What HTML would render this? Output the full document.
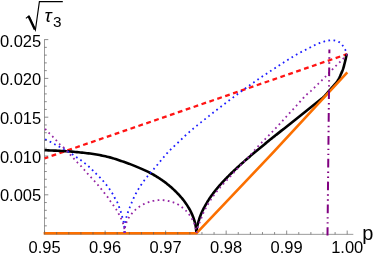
<!DOCTYPE html>
<html><head><meta charset="utf-8"><style>
html,body{margin:0;padding:0;background:#fff;}
svg{display:block;will-change:transform;font-family:"Liberation Sans",sans-serif;}
</style></head><body>
<svg width="374" height="257" viewBox="0 0 374 257">
<rect width="374" height="257" fill="#fff"/>
<g stroke="#6e6e6e" stroke-width="0.7" fill="none">
<line x1="44.5" y1="39.3" x2="44.5" y2="234.35"/>
<line x1="44.5" y1="234.35" x2="353.3" y2="234.35"/>
</g>
<g fill="none" stroke-linejoin="miter">
<path d="M44.6,158.3 L347.2,54.1" stroke="#ff1414" stroke-width="2.3" stroke-dasharray="4.8 3.545" stroke-dashoffset="0.95"/>
<path d="M44.60,150.22 L46.50,150.29 L48.39,150.37 L50.27,150.44 L52.14,150.52 L53.99,150.59 L55.83,150.67 L57.66,150.75 L59.48,150.84 L61.29,150.93 L63.08,151.02 L64.86,151.13 L66.63,151.24 L68.39,151.36 L70.14,151.50 L71.87,151.64 L73.59,151.79 L75.30,151.95 L77.00,152.11 L78.69,152.28 L80.36,152.45 L82.03,152.63 L83.68,152.80 L85.31,152.98 L86.94,153.17 L88.55,153.37 L90.16,153.58 L91.75,153.80 L93.32,154.04 L94.89,154.28 L96.44,154.54 L97.99,154.81 L99.52,155.09 L101.04,155.38 L102.54,155.69 L104.04,156.00 L105.52,156.33 L106.99,156.67 L108.45,157.02 L109.89,157.38 L111.33,157.76 L112.75,158.18 L114.16,158.63 L115.56,159.10 L116.94,159.57 L118.32,160.03 L119.68,160.49 L121.03,160.93 L122.37,161.37 L123.69,161.82 L125.01,162.27 L126.31,162.73 L127.60,163.19 L128.88,163.66 L130.14,164.13 L131.40,164.61 L132.64,165.10 L133.87,165.59 L135.09,166.09 L136.29,166.60 L137.49,167.10 L138.67,167.60 L139.84,168.09 L141.00,168.59 L142.15,169.10 L143.28,169.60 L144.40,170.11 L145.51,170.62 L146.61,171.14 L147.70,171.67 L148.77,172.20 L149.83,172.74 L150.88,173.29 L151.92,173.85 L152.95,174.42 L153.96,175.00 L154.96,175.59 L155.95,176.19 L156.93,176.79 L157.90,177.40 L158.85,178.01 L159.79,178.62 L160.72,179.24 L161.64,179.87 L162.55,180.50 L163.44,181.13 L164.32,181.78 L165.19,182.42 L166.05,183.08 L166.90,183.73 L167.73,184.40 L168.55,185.07 L169.36,185.75 L170.16,186.43 L170.95,187.11 L171.72,187.79 L172.48,188.47 L173.23,189.16 L173.97,189.85 L174.70,190.54 L175.41,191.23 L176.11,191.92 L176.80,192.61 L177.48,193.31 L178.15,194.01 L178.80,194.70 L179.44,195.40 L180.07,196.10 L180.69,196.80 L181.30,197.50 L181.89,198.20 L182.47,198.90 L183.04,199.60 L183.60,200.31 L184.15,201.02 L184.68,201.74 L185.20,202.45 L185.72,203.18 L186.21,203.90 L186.70,204.63 L187.17,205.36 L187.64,206.09 L188.09,206.81 L188.52,207.54 L188.95,208.27 L189.36,209.00 L189.77,209.73 L190.16,210.45 L190.53,211.18 L190.90,211.90 L191.25,212.62 L191.60,213.34 L191.93,214.06 L192.24,214.78 L192.55,215.50 L192.84,216.22 L193.13,216.93 L193.40,217.65 L193.65,218.37 L193.90,219.09 L194.13,219.80 L194.36,220.52 L194.57,221.23 L194.76,221.94 L194.95,222.65 L195.12,223.35 L195.29,224.06 L195.44,224.76 L195.57,225.46 L195.70,226.15 L195.81,226.85 L195.92,227.54 L196.01,228.23 L196.08,228.92 L196.15,229.60 L196.20,230.29 L196.25,230.97 L196.28,231.65 L196.29,232.33 L196.30,233.00" stroke="#000" stroke-width="2.6"/>
<path d="M196.30,233.00 L196.36,232.20 L196.44,231.41 L196.52,230.61 L196.62,229.82 L196.74,229.03 L196.86,228.24 L197.00,227.45 L197.15,226.67 L197.32,225.89 L197.49,225.11 L197.68,224.33 L197.88,223.56 L198.09,222.79 L198.31,222.02 L198.54,221.25 L198.78,220.49 L199.03,219.73 L199.26,218.97 L199.51,218.21 L199.76,217.45 L200.03,216.70 L200.31,215.95 L200.59,215.20 L200.89,214.46 L201.19,213.72 L201.51,212.99 L201.83,212.25 L202.16,211.53 L202.50,210.80 L202.85,210.09 L203.20,209.37 L203.57,208.66 L203.94,207.95 L204.32,207.25 L204.70,206.55 L205.10,205.85 L205.49,205.16 L205.89,204.46 L206.28,203.77 L206.68,203.07 L207.08,202.39 L207.49,201.70 L207.91,201.02 L208.34,200.34 L208.77,199.67 L209.20,199.00 L209.64,198.33 L210.09,197.67 L210.54,197.01 L210.99,196.35 L211.46,195.70 L211.92,195.05 L212.39,194.40 L212.87,193.76 L213.34,193.12 L213.83,192.49 L214.31,191.85 L214.81,191.22 L215.30,190.59 L215.80,189.97 L216.30,189.35 L216.81,188.73 L217.32,188.12 L217.84,187.51 L218.36,186.90 L218.88,186.30 L219.40,185.69 L219.93,185.09 L220.46,184.49 L220.99,183.90 L221.53,183.31 L222.07,182.72 L222.61,182.13 L223.15,181.54 L223.69,180.96 L224.24,180.38 L224.79,179.80 L225.34,179.22 L225.90,178.64 L226.46,178.07 L227.01,177.50 L227.57,176.93 L228.14,176.36 L228.70,175.80 L229.27,175.23 L229.84,174.67 L230.41,174.11 L230.98,173.55 L231.55,172.99 L232.12,172.44 L232.70,171.89 L233.28,171.33 L233.86,170.78 L234.44,170.23 L235.02,169.69 L235.60,169.14 L236.19,168.60 L236.77,168.05 L237.36,167.51 L237.95,166.97 L238.54,166.43 L239.13,165.89 L239.72,165.36 L240.32,164.82 L240.91,164.29 L241.50,163.75 L242.10,163.22 L242.70,162.69 L243.30,162.16 L243.89,161.63 L244.49,161.10 L245.10,160.58 L245.70,160.05 L246.30,159.53 L246.90,159.00 L247.51,158.48 L248.11,157.96 L248.72,157.44 L249.33,156.92 L249.93,156.40 L250.54,155.88 L251.15,155.36 L251.76,154.85 L252.37,154.33 L252.98,153.81 L253.59,153.30 L254.20,152.79 L254.81,152.27 L255.43,151.76 L256.04,151.25 L256.65,150.74 L257.27,150.22 L257.88,149.71 L258.50,149.20 L259.11,148.70 L259.73,148.19 L260.35,147.68 L260.96,147.17 L261.58,146.66 L262.20,146.16 L262.82,145.65 L263.44,145.14 L264.05,144.64 L264.67,144.13 L265.29,143.63 L265.91,143.13 L266.53,142.62 L267.15,142.12 L267.77,141.61 L268.40,141.11 L269.02,140.61 L269.64,140.11 L270.26,139.61 L270.88,139.11 L271.51,138.61 L272.13,138.11 L272.75,137.61 L273.38,137.11 L274.00,136.61 L274.63,136.11 L275.25,135.61 L275.87,135.11 L276.50,134.61 L277.12,134.12 L277.75,133.62 L278.37,133.12 L279.00,132.62 L279.62,132.13 L280.25,131.63 L280.87,131.13 L281.50,130.63 L282.13,130.14 L282.75,129.64 L283.38,129.14 L284.00,128.65 L284.63,128.15 L285.26,127.65 L285.88,127.16 L286.51,126.66 L287.13,126.16 L287.76,125.67 L288.39,125.17 L289.01,124.68 L289.64,124.18 L290.27,123.68 L290.89,123.19 L291.52,122.69 L292.14,122.19 L292.77,121.70 L293.40,121.20 L294.02,120.71 L294.65,120.21 L295.28,119.71 L295.90,119.22 L296.53,118.72 L297.15,118.22 L297.78,117.73 L298.40,117.23 L299.03,116.73 L299.66,116.23 L300.28,115.74 L300.91,115.24 L301.53,114.74 L302.16,114.25 L302.78,113.75 L303.41,113.25 L304.03,112.75 L304.66,112.25 L305.28,111.76 L305.91,111.26 L306.53,110.76 L307.16,110.26 L307.78,109.76 L308.40,109.27 L309.03,108.77 L309.65,108.27 L310.28,107.77 L310.90,107.27 L311.52,106.77 L312.15,106.27 L312.77,105.77 L313.40,105.27 L314.02,104.77 L314.64,104.27 L315.27,103.77 L315.89,103.27 L316.51,102.77 L317.13,102.27 L317.76,101.77 L318.38,101.27 L319.00,100.76 L319.62,100.26 L320.24,99.76 L320.87,99.26 L321.50,98.77 L322.12,98.27 L322.73,97.75 L323.32,97.22 L323.90,96.67 L324.47,96.11 L325.02,95.54 L325.57,94.95 L326.11,94.36 L326.64,93.76 L327.16,93.16 L327.68,92.54 L328.20,91.93 L328.71,91.32 L329.23,90.70 L329.75,90.09 L330.27,89.49 L330.80,88.89 L331.32,88.29 L331.86,87.69 L332.39,87.10 L332.92,86.50 L333.46,85.91 L333.99,85.31 L334.52,84.71 L335.05,84.11 L335.57,83.50 L336.08,82.89 L336.58,82.26 L337.06,81.62 L337.52,80.97 L337.96,80.30 L338.37,79.62 L338.77,78.93 L339.14,78.22 L339.50,77.50 L339.83,76.78 L340.16,76.05 L340.47,75.31 L340.78,74.58 L341.10,73.84 L341.42,73.11 L341.74,72.38 L342.06,71.64 L342.36,70.90 L342.66,70.16 L342.93,69.41 L343.19,68.66 L343.42,67.89 L343.64,67.12 L343.85,66.35 L344.05,65.58 L344.25,64.80 L344.44,64.03 L344.64,63.25 L344.83,62.47 L345.02,61.70 L345.21,60.92 L345.39,60.15 L345.58,59.37 L345.76,58.59 L345.93,57.81 L346.11,57.03 L346.27,56.25 L346.44,55.47 L346.60,54.69 L346.75,53.90" stroke="#000" stroke-width="2.6"/>
<path d="M43.6,233.3 L196.4,233.3 Q272.5,154.2 347.3,72.4" stroke="#fb6f00" stroke-width="2.6" stroke-miterlimit="10"/>
<path d="M45.10,139.30 L45.83,139.63 L46.55,139.97 L47.27,140.31 L47.99,140.67 L48.70,141.03 L49.41,141.39 L50.12,141.76 L50.83,142.14 L51.53,142.52 L52.23,142.90 L52.93,143.29 L53.63,143.67 L54.33,144.06 L55.03,144.45 L55.73,144.83 L56.43,145.21 L57.14,145.59 L57.84,145.96 L58.56,146.33 L59.27,146.68 L59.99,147.03 L60.71,147.38 L61.43,147.73 L62.15,148.08 L62.86,148.44 L63.56,148.82 L64.25,149.22 L64.94,149.63 L65.61,150.06 L66.29,150.49 L66.96,150.93 L67.63,151.36 L68.30,151.79 L68.98,152.22 L69.66,152.64 L70.34,153.06 L71.02,153.48 L71.69,153.91 L72.36,154.34 L73.03,154.79 L73.68,155.24 L74.34,155.70 L74.99,156.16 L75.64,156.63 L76.29,157.09 L76.95,157.54 L77.62,157.98 L78.29,158.42 L78.96,158.85 L79.63,159.29 L80.29,159.74 L80.95,160.19 L81.59,160.66 L82.23,161.15 L82.86,161.64 L83.48,162.14 L84.10,162.65 L84.72,163.15 L85.34,163.66 L85.96,164.16 L86.58,164.66 L87.20,165.17 L87.82,165.68 L88.43,166.19 L89.02,166.72 L89.61,167.26 L90.19,167.81 L90.77,168.37 L91.34,168.93 L91.90,169.49 L92.46,170.06 L93.03,170.63 L93.59,171.20 L94.15,171.77 L94.72,172.33 L95.28,172.90 L95.85,173.46 L96.42,174.02 L96.99,174.57 L97.56,175.13 L98.13,175.70 L98.70,176.26 L99.26,176.83 L99.82,177.40 L100.37,177.98 L100.92,178.55 L101.47,179.13 L102.02,179.71 L102.57,180.30 L103.10,180.89 L103.63,181.49 L104.15,182.10 L104.67,182.71 L105.17,183.33 L105.67,183.95 L106.16,184.58 L106.65,185.21 L107.14,185.85 L107.62,186.49 L108.10,187.13 L108.57,187.77 L109.04,188.42 L109.50,189.07 L109.95,189.73 L110.40,190.39 L110.85,191.05 L111.29,191.72 L111.72,192.39 L112.14,193.07 L112.56,193.76 L112.96,194.45 L113.34,195.15 L113.71,195.85 L114.08,196.56 L114.45,197.27 L114.82,197.98 L115.20,198.68 L115.60,199.37 L116.02,200.06 L116.43,200.74 L116.84,201.43 L117.23,202.13 L117.59,202.84 L117.92,203.57 L118.21,204.31 L118.47,205.07 L118.72,205.83 L118.96,206.59 L119.21,207.35 L119.47,208.10 L119.73,208.86 L120.00,209.61 L120.27,210.36 L120.54,211.12 L120.80,211.87 L121.05,212.63 L121.29,213.39 L121.51,214.16 L121.72,214.93 L121.93,215.70 L122.13,216.48 L122.33,217.25 L122.53,218.03 L122.74,218.80 L122.96,219.56 L123.19,220.33 L123.41,221.10 L123.60,221.87 L123.77,222.65 L123.91,223.44 L124.02,224.23 L124.11,225.03 L124.18,225.82 L124.26,226.62 L124.32,227.41 L124.39,228.21 L124.45,229.01 L124.50,229.81 L124.54,230.60 L124.57,231.40 L124.59,232.20 L124.60,233.00" stroke="#1c1cff" stroke-width="1.8" stroke-dasharray="1.7 3.4"/>
<path d="M124.60,233.00 L124.60,232.20 L124.61,231.40 L124.63,230.60 L124.65,229.81 L124.68,229.01 L124.72,228.21 L124.76,227.41 L124.82,226.61 L124.88,225.82 L124.94,225.02 L125.02,224.23 L125.11,223.43 L125.20,222.64 L125.31,221.85 L125.44,221.06 L125.58,220.27 L125.75,219.49 L125.95,218.72 L126.16,217.95 L126.40,217.19 L126.64,216.42 L126.87,215.66 L127.11,214.90 L127.34,214.13 L127.59,213.37 L127.84,212.61 L128.10,211.85 L128.36,211.08 L128.64,210.31 L128.92,209.54 L129.21,208.77 L129.51,208.00 L129.81,207.24 L130.11,206.48 L130.42,205.71 L130.74,204.95 L131.05,204.19 L131.37,203.44 L131.69,202.68 L132.02,201.92 L132.35,201.17 L132.67,200.42 L133.00,199.66 L133.32,198.91 L133.65,198.16 L133.98,197.41 L134.33,196.67 L134.68,195.94 L135.04,195.21 L135.41,194.48 L135.79,193.76 L136.17,193.04 L136.55,192.33 L136.94,191.62 L137.34,190.92 L137.74,190.23 L138.15,189.54 L138.56,188.86 L138.98,188.18 L139.40,187.50 L139.83,186.83 L140.27,186.15 L140.70,185.49 L141.15,184.82 L141.60,184.16 L142.05,183.50 L142.51,182.85 L142.97,182.20 L143.44,181.55 L143.91,180.91 L144.39,180.27 L144.87,179.63 L145.36,179.00 L145.85,178.37 L146.35,177.75 L146.85,177.12 L147.36,176.51 L147.87,175.89 L148.38,175.28 L148.90,174.67 L149.43,174.07 L149.96,173.47 L150.49,172.87 L151.01,172.27 L151.54,171.67 L152.06,171.07 L152.58,170.46 L153.10,169.86 L153.62,169.25 L154.14,168.64 L154.66,168.03 L155.17,167.42 L155.68,166.81 L156.20,166.20 L156.71,165.59 L157.22,164.97 L157.73,164.36 L158.24,163.74 L158.75,163.13 L159.26,162.51 L159.77,161.90 L160.28,161.28 L160.79,160.66 L161.29,160.05 L161.80,159.43 L162.31,158.82 L162.82,158.20 L163.33,157.58 L163.84,156.97 L164.35,156.35 L164.86,155.74 L165.37,155.13 L165.88,154.53 L166.39,153.94 L166.90,153.36 L167.42,152.80 L167.93,152.24 L168.45,151.69 L168.97,151.15 L169.48,150.62 L170.00,150.10 L170.53,149.58 L171.05,149.07 L171.57,148.56 L172.10,148.05 L172.63,147.55 L173.16,147.05 L173.69,146.56 L174.23,146.06 L174.77,145.56 L175.31,145.06 L175.85,144.57 L176.39,144.06 L176.94,143.56 L177.49,143.05 L178.04,142.53 L178.60,142.01 L179.16,141.47 L179.72,140.93 L180.28,140.38 L180.84,139.83 L181.41,139.28 L181.98,138.73 L182.55,138.18 L183.13,137.64 L183.70,137.10 L184.28,136.56 L184.86,136.02 L185.45,135.49 L186.03,134.96 L186.62,134.42 L187.21,133.90 L187.80,133.37 L188.39,132.84 L188.99,132.32 L189.58,131.80 L190.18,131.27 L190.78,130.76 L191.39,130.24 L191.99,129.72 L192.60,129.21 L193.20,128.69 L193.81,128.18 L194.42,127.67 L195.04,127.16 L195.65,126.66 L196.27,126.15 L196.89,125.65 L197.50,125.14 L198.12,124.64 L198.75,124.14 L199.37,123.64 L199.99,123.14 L200.62,122.64 L201.25,122.14 L201.88,121.64 L202.51,121.13 L203.14,120.63 L203.77,120.13 L204.40,119.62 L205.04,119.12 L205.67,118.61 L206.31,118.11 L206.95,117.60 L207.59,117.09 L208.23,116.59 L208.87,116.08 L209.51,115.57 L210.15,115.06 L210.79,114.56 L211.44,114.05 L212.08,113.54 L212.73,113.03 L213.37,112.53 L214.02,112.02 L214.66,111.51 L215.31,111.01 L215.96,110.50 L216.61,110.00 L217.26,109.49 L217.91,108.99 L218.56,108.49 L219.21,107.98 L219.86,107.48 L220.51,106.98 L221.16,106.48 L221.81,105.99 L222.47,105.49 L223.12,105.00 L223.77,104.50 L224.42,104.01 L225.08,103.52 L225.73,103.03 L226.38,102.54 L227.04,102.05 L227.69,101.55 L228.34,101.06 L228.99,100.57 L229.65,100.08 L230.30,99.59 L230.95,99.10 L231.60,98.61 L232.25,98.12 L232.91,97.62 L233.56,97.13 L234.21,96.64 L234.86,96.15 L235.51,95.66 L236.16,95.16 L236.81,94.67 L237.45,94.18 L238.10,93.68 L238.75,93.19 L239.40,92.70 L240.04,92.20 L240.69,91.73 L241.34,91.26 L241.98,90.79 L242.63,90.32 L243.28,89.85 L243.92,89.39 L244.57,88.92 L245.22,88.45 L245.86,87.98 L246.51,87.51 L247.16,87.04 L247.81,86.58 L248.45,86.11 L249.10,85.65 L249.75,85.18 L250.40,84.72 L251.05,84.25 L251.70,83.79 L252.35,83.33 L253.00,82.87 L253.66,82.41 L254.31,81.95 L254.96,81.50 L255.62,81.04 L256.28,80.59 L256.93,80.13 L257.59,79.68 L258.25,79.23 L258.91,78.78 L259.57,78.33 L260.23,77.88 L260.89,77.43 L261.55,76.99 L262.21,76.54 L262.88,76.10 L263.54,75.65 L264.20,75.21 L264.87,74.77 L265.53,74.32 L266.20,73.88 L266.87,73.44 L267.53,73.00 L268.20,72.56 L268.87,72.12 L269.54,71.68 L270.20,71.25 L270.87,70.81 L271.54,70.37 L272.21,69.93 L272.88,69.50 L273.55,69.06 L274.22,68.63 L274.89,68.19 L275.56,67.75 L276.23,67.32 L276.90,66.88 L277.57,66.45 L278.24,66.01 L278.92,65.58 L279.59,65.14 L280.26,64.71 L280.93,64.27 L281.60,63.84 L282.27,63.41 L282.95,62.97 L283.62,62.54 L284.29,62.11 L284.97,61.68 L285.64,61.25 L286.31,60.82 L286.99,60.39 L287.67,59.96 L288.34,59.54 L289.02,59.11 L289.70,58.69 L290.38,58.27 L291.06,57.85 L291.74,57.44 L292.43,57.02 L293.11,56.61 L293.80,56.20 L294.49,55.79 L295.18,55.39 L295.87,54.99 L296.56,54.59 L297.25,54.20 L297.95,53.80 L298.64,53.42 L299.34,53.03 L300.04,52.65 L300.75,52.27 L301.45,51.90 L302.16,51.53 L302.87,51.16 L303.58,50.80 L304.29,50.44 L305.00,50.08 L305.72,49.72 L306.43,49.37 L307.15,49.01 L307.86,48.65 L308.58,48.29 L309.29,47.93 L310.00,47.57 L310.71,47.20 L311.42,46.83 L312.13,46.46 L312.83,46.08 L313.54,45.71 L314.25,45.35 L314.97,45.00 L315.69,44.66 L316.42,44.34 L317.16,44.03 L317.90,43.74 L318.65,43.45 L319.40,43.17 L320.15,42.90 L320.90,42.63 L321.66,42.36 L322.41,42.09 L323.17,41.83 L323.93,41.58 L324.69,41.35 L325.46,41.14 L326.23,40.94 L327.01,40.78 L327.80,40.63 L328.59,40.51 L329.39,40.41 L330.18,40.33 L330.98,40.29 L331.79,40.26 L332.59,40.27 L333.39,40.31 L334.19,40.39 L334.98,40.52 L335.76,40.69 L336.54,40.91 L337.30,41.19 L338.04,41.51 L338.76,41.88 L339.44,42.30 L340.09,42.77 L340.70,43.28 L341.27,43.84 L341.81,44.43 L342.31,45.06 L342.78,45.71 L343.23,46.38 L343.67,47.05 L344.10,47.73 L344.51,48.42 L344.91,49.11 L345.30,49.81 L345.67,50.52 L346.02,51.23 L346.35,51.96 L346.66,52.69 L346.94,53.44 L347.20,54.20" stroke="#1c1cff" stroke-width="1.8" stroke-dasharray="1.7 3.4"/>
<path d="M45.10,128.80 L45.62,129.41 L46.14,130.01 L46.68,130.60 L47.22,131.18 L47.77,131.76 L48.33,132.33 L48.89,132.89 L49.46,133.45 L50.03,134.01 L50.60,134.56 L51.17,135.12 L51.75,135.67 L52.32,136.22 L52.89,136.78 L53.46,137.34 L54.02,137.91 L54.58,138.47 L55.13,139.05 L55.67,139.64 L56.20,140.23 L56.73,140.83 L57.25,141.43 L57.77,142.03 L58.30,142.63 L58.84,143.22 L59.39,143.79 L59.96,144.35 L60.55,144.89 L61.15,145.41 L61.76,145.93 L62.37,146.44 L62.97,146.96 L63.57,147.48 L64.16,148.02 L64.73,148.58 L65.29,149.14 L65.84,149.72 L66.38,150.30 L66.91,150.89 L67.44,151.49 L67.97,152.09 L68.49,152.70 L69.01,153.30 L69.53,153.90 L70.06,154.50 L70.59,155.10 L71.13,155.69 L71.66,156.28 L72.21,156.86 L72.75,157.45 L73.29,158.03 L73.83,158.62 L74.37,159.20 L74.90,159.80 L75.44,160.39 L75.97,160.98 L76.51,161.56 L77.06,162.14 L77.61,162.72 L78.17,163.28 L78.74,163.84 L79.31,164.40 L79.88,164.96 L80.44,165.52 L81.00,166.09 L81.54,166.67 L82.08,167.26 L82.60,167.86 L83.12,168.47 L83.64,169.07 L84.16,169.68 L84.67,170.29 L85.19,170.89 L85.71,171.49 L86.24,172.10 L86.77,172.69 L87.29,173.29 L87.83,173.88 L88.36,174.48 L88.89,175.07 L89.43,175.65 L89.97,176.24 L90.51,176.83 L91.05,177.41 L91.59,178.00 L92.13,178.58 L92.67,179.17 L93.22,179.75 L93.76,180.34 L94.30,180.92 L94.83,181.51 L95.37,182.10 L95.91,182.69 L96.44,183.28 L96.97,183.88 L97.49,184.48 L98.01,185.09 L98.52,185.70 L99.02,186.32 L99.52,186.94 L100.01,187.57 L100.51,188.19 L101.01,188.81 L101.51,189.43 L102.00,190.05 L102.50,190.68 L103.00,191.30 L103.50,191.92 L104.00,192.54 L104.49,193.16 L104.99,193.79 L105.49,194.41 L105.99,195.03 L106.48,195.65 L106.98,196.28 L107.47,196.91 L107.95,197.55 L108.41,198.20 L108.85,198.86 L109.28,199.53 L109.70,200.20 L110.13,200.88 L110.56,201.55 L111.01,202.21 L111.47,202.86 L111.95,203.49 L112.43,204.12 L112.92,204.75 L113.41,205.39 L113.89,206.02 L114.35,206.67 L114.81,207.33 L115.26,207.98 L115.70,208.64 L116.14,209.31 L116.56,209.98 L116.98,210.66 L117.38,211.35 L117.77,212.05 L118.14,212.75 L118.51,213.46 L118.87,214.17 L119.23,214.88 L119.60,215.59 L119.96,216.30 L120.31,217.01 L120.66,217.73 L121.01,218.45 L121.34,219.17 L121.67,219.90 L121.99,220.63 L122.30,221.36 L122.61,222.09 L122.90,222.84 L123.17,223.59 L123.41,224.34 L123.63,225.11 L123.82,225.89 L123.99,226.66 L124.13,227.45 L124.26,228.24 L124.36,229.03 L124.45,229.82 L124.51,230.61 L124.56,231.41 L124.59,232.20 L124.60,233.00" stroke="#9424a4" stroke-width="1.8" stroke-dasharray="1.7 3.4"/>
<path d="M124.60,233.00 L124.60,232.66 L124.61,232.32 L124.62,231.98 L124.63,231.64 L124.65,231.31 L124.67,230.97 L124.69,230.63 L124.72,230.29 L124.75,229.96 L124.78,229.62 L124.82,229.29 L124.86,228.95 L124.91,228.62 L124.95,228.28 L125.01,227.95 L125.06,227.62 L125.12,227.29 L125.19,226.96 L125.25,226.63 L125.32,226.30 L125.40,225.98 L125.48,225.65 L125.56,225.33 L125.64,225.00 L125.73,224.68 L125.82,224.36 L125.92,224.03 L126.02,223.71 L126.12,223.39 L126.23,223.07 L126.34,222.75 L126.45,222.44 L126.57,222.12 L126.69,221.81 L126.82,221.50 L126.95,221.20 L127.08,220.90 L127.21,220.60 L127.35,220.31 L127.50,220.02 L127.64,219.73 L127.79,219.44 L127.95,219.16 L128.11,218.87 L128.27,218.59 L128.43,218.31 L128.60,218.03 L128.77,217.75 L128.95,217.48 L129.13,217.20 L129.31,216.92 L129.50,216.65 L129.69,216.37 L129.88,216.09 L130.08,215.82 L130.28,215.54 L130.48,215.27 L130.69,214.99 L130.90,214.71 L131.12,214.44 L131.34,214.17 L131.56,213.89 L131.79,213.62 L132.02,213.35 L132.25,213.08 L132.49,212.81 L132.73,212.55 L132.97,212.28 L133.22,212.02 L133.47,211.75 L133.73,211.49 L133.99,211.22 L134.25,210.96 L134.51,210.70 L134.78,210.43 L135.06,210.17 L135.33,209.91 L135.62,209.66 L135.90,209.40 L136.19,209.15 L136.48,208.91 L136.77,208.66 L137.07,208.42 L137.38,208.19 L137.68,207.95 L137.99,207.71 L138.30,207.48 L138.62,207.25 L138.94,207.02 L139.27,206.80 L139.59,206.58 L139.92,206.36 L140.26,206.14 L140.60,205.93 L140.94,205.72 L141.29,205.51 L141.64,205.30 L141.99,205.10 L142.35,204.90 L142.71,204.69 L143.07,204.50 L143.44,204.30 L143.81,204.11 L144.18,203.92 L144.56,203.74 L144.94,203.57 L145.33,203.40 L145.72,203.24 L146.11,203.08 L146.51,202.93 L146.91,202.78 L147.31,202.63 L147.72,202.49 L148.13,202.35 L148.54,202.21 L148.96,202.08 L149.38,201.95 L149.81,201.82 L150.24,201.70 L150.67,201.58 L151.11,201.46 L151.55,201.34 L151.99,201.22 L152.44,201.10 L152.89,200.99 L153.34,200.88 L153.80,200.78 L154.26,200.68 L154.73,200.60 L155.20,200.53 L155.67,200.47 L156.15,200.42 L156.63,200.37 L157.11,200.31 L157.60,200.27 L158.09,200.22 L158.58,200.18 L159.08,200.15 L159.58,200.12 L160.09,200.11 L160.60,200.10 L161.11,200.10 L161.62,200.12 L162.14,200.14 L162.67,200.16 L163.19,200.19 L163.72,200.23 L164.26,200.27 L164.80,200.32 L165.34,200.37 L165.88,200.43 L166.43,200.51 L166.98,200.62 L167.54,200.75 L168.10,200.89 L168.66,201.05 L169.23,201.22 L169.80,201.39 L170.37,201.55 L170.95,201.70 L171.53,201.86 L172.12,202.02 L172.70,202.18 L173.30,202.36 L173.89,202.54 L174.49,202.74 L175.09,202.96 L175.70,203.20 L176.31,203.49 L176.93,203.81 L177.54,204.17 L178.16,204.55 L178.79,204.97 L179.42,205.40 L180.05,205.83 L180.68,206.28 L181.32,206.75 L181.97,207.24 L182.61,207.76 L183.26,208.31 L183.92,208.87 L184.57,209.46 L185.23,210.06 L185.90,210.69 L186.57,211.34 L187.24,212.04 L187.91,212.80 L188.59,213.65 L189.28,214.62 L189.96,215.69 L190.65,216.78 L191.34,217.85 L192.04,218.91 L192.74,220.05 L193.45,221.42 L194.15,223.22 L194.87,225.30 L195.58,227.71 L196.30,233.00" stroke="#9424a4" stroke-width="1.8" stroke-dasharray="1.7 3.4"/>
<path d="M196.60,233.00 L196.70,232.21 L196.81,231.42 L196.94,230.63 L197.10,229.85 L197.27,229.07 L197.46,228.30 L197.67,227.53 L197.90,226.76 L198.14,226.00 L198.41,225.25 L198.69,224.50 L198.99,223.77 L199.31,223.04 L199.64,222.31 L199.98,221.59 L200.31,220.86 L200.63,220.13 L200.92,219.39 L201.18,218.63 L201.43,217.88 L201.68,217.12 L201.96,216.37 L202.25,215.63 L202.55,214.89 L202.86,214.15 L203.17,213.42 L203.50,212.69 L203.83,211.97 L204.17,211.25 L204.52,210.53 L204.88,209.82 L205.25,209.11 L205.62,208.41 L206.01,207.71 L206.40,207.01 L206.79,206.32 L207.18,205.62 L207.57,204.93 L207.97,204.24 L208.37,203.55 L208.78,202.86 L209.19,202.18 L209.61,201.50 L210.04,200.83 L210.47,200.16 L210.91,199.49 L211.35,198.83 L211.80,198.17 L212.26,197.52 L212.71,196.86 L213.18,196.21 L213.65,195.57 L214.12,194.93 L214.60,194.29 L215.08,193.65 L215.56,193.02 L216.05,192.39 L216.54,191.76 L217.04,191.14 L217.54,190.52 L218.05,189.90 L218.56,189.29 L219.08,188.68 L219.59,188.07 L220.11,187.47 L220.63,186.87 L221.16,186.27 L221.69,185.67 L222.22,185.07 L222.76,184.48 L223.29,183.89 L223.83,183.31 L224.37,182.72 L224.92,182.14 L225.46,181.56 L226.01,180.98 L226.56,180.40 L227.12,179.83 L227.68,179.26 L228.23,178.69 L228.78,178.11 L229.33,177.53 L229.87,176.94 L230.40,176.35 L230.93,175.75 L231.45,175.15 L231.99,174.56 L232.52,173.96 L233.06,173.37 L233.59,172.78 L234.13,172.20 L234.67,171.61 L235.21,171.02 L235.76,170.44 L236.30,169.86 L236.85,169.28 L237.39,168.70 L237.94,168.12 L238.49,167.54 L239.04,166.96 L239.59,166.39 L240.15,165.81 L240.70,165.24 L241.26,164.66 L241.81,164.09 L242.37,163.52 L242.93,162.95 L243.49,162.38 L244.05,161.82 L244.61,161.25 L245.17,160.69 L245.74,160.12 L246.30,159.56 L246.85,158.98 L247.40,158.40 L247.94,157.82 L248.47,157.22 L249.00,156.63 L249.53,156.03 L250.05,155.43 L250.58,154.83 L251.10,154.22 L251.62,153.62 L252.14,153.01 L252.66,152.40 L253.18,151.80 L253.70,151.20 L254.23,150.60 L254.76,150.00 L255.29,149.41 L255.83,148.82 L256.36,148.23 L256.90,147.64 L257.44,147.06 L257.99,146.47 L258.53,145.89 L259.08,145.31 L259.63,144.73 L260.18,144.16 L260.74,143.58 L261.29,143.01 L261.84,142.44 L262.40,141.86 L262.96,141.29 L263.51,140.72 L264.07,140.15 L264.63,139.58 L265.19,139.01 L265.74,138.44 L266.30,137.87 L266.86,137.30 L267.42,136.73 L267.98,136.16 L268.54,135.59 L269.09,135.02 L269.65,134.45 L270.21,133.88 L270.76,133.31 L271.32,132.74 L271.88,132.17 L272.43,131.59 L272.98,131.02 L273.54,130.44 L274.09,129.87 L274.64,129.29 L275.19,128.71 L275.74,128.14 L276.29,127.56 L276.83,126.98 L277.38,126.40 L277.92,125.81 L278.47,125.23 L279.01,124.64 L279.55,124.06 L280.09,123.47 L280.63,122.88 L281.17,122.29 L281.71,121.71 L282.24,121.12 L282.78,120.53 L283.32,119.94 L283.85,119.35 L284.39,118.76 L284.93,118.17 L285.46,117.58 L286.00,116.99 L286.54,116.40 L287.07,115.81 L287.61,115.22 L288.15,114.63 L288.69,114.04 L289.23,113.45 L289.77,112.87 L290.31,112.28 L290.85,111.70 L291.39,111.11 L291.93,110.53 L292.47,109.94 L293.01,109.36 L293.56,108.77 L294.10,108.19 L294.64,107.60 L295.18,107.02 L295.72,106.43 L296.26,105.84 L296.80,105.25 L297.34,104.67 L297.87,104.08 L298.41,103.48 L298.94,102.89 L299.48,102.30 L300.01,101.70 L300.54,101.10 L301.07,100.51 L301.60,99.91 L302.13,99.31 L302.67,98.72 L303.20,98.13 L303.75,97.54 L304.29,96.96 L304.85,96.39 L305.41,95.82 L305.98,95.27 L306.55,94.72 L307.14,94.18 L307.74,93.65 L308.35,93.14 L308.96,92.62 L309.57,92.11 L310.17,91.59 L310.78,91.07 L311.37,90.54 L311.96,89.99 L312.53,89.44 L313.10,88.89 L313.67,88.33 L314.24,87.76 L314.80,87.20 L315.37,86.64 L315.93,86.08 L316.50,85.52 L317.08,84.96 L317.65,84.41 L318.23,83.86 L318.80,83.30 L319.37,82.75 L319.95,82.20 L320.52,81.64 L321.09,81.09 L321.66,80.53 L322.23,79.97 L322.79,79.40 L323.35,78.84 L323.91,78.27 L324.47,77.69 L325.02,77.12 L325.57,76.55 L326.13,75.97 L326.68,75.39 L327.23,74.81 L327.78,74.24 L328.33,73.66 L328.88,73.08 L329.43,72.50 L329.98,71.93 L330.53,71.35 L331.08,70.78 L331.63,70.20 L332.19,69.63 L332.75,69.06 L333.30,68.49 L333.86,67.92 L334.43,67.36 L334.99,66.79 L335.56,66.23 L336.12,65.67 L336.69,65.11 L337.26,64.55 L337.83,64.00 L338.40,63.44 L338.98,62.88 L339.55,62.33 L340.12,61.77 L340.69,61.21 L341.25,60.65 L341.82,60.09 L342.38,59.52 L342.94,58.95 L343.49,58.38 L344.04,57.80 L344.58,57.22 L345.12,56.63 L345.65,56.03 L346.17,55.43 L346.69,54.82 L347.20,54.20" stroke="#9424a4" stroke-width="1.8" stroke-dasharray="1.7 3.4"/>
<path d="M327.5,235.4 L329.4,49.4" stroke="#800080" stroke-width="2" stroke-dasharray="8.7 3.7 1.4 3.6 1.4 4.04" stroke-dashoffset="0.6"/>
</g>
<g stroke="#5a5a5a" stroke-width="0.7" fill="none">
<line x1="44.60" y1="234.35" x2="44.60" y2="230.55"/><line x1="56.70" y1="234.35" x2="56.70" y2="232.05"/><line x1="68.81" y1="234.35" x2="68.81" y2="232.05"/><line x1="80.91" y1="234.35" x2="80.91" y2="232.05"/><line x1="93.02" y1="234.35" x2="93.02" y2="232.05"/><line x1="105.12" y1="234.35" x2="105.12" y2="230.55"/><line x1="117.22" y1="234.35" x2="117.22" y2="232.05"/><line x1="129.33" y1="234.35" x2="129.33" y2="232.05"/><line x1="141.43" y1="234.35" x2="141.43" y2="232.05"/><line x1="153.54" y1="234.35" x2="153.54" y2="232.05"/><line x1="165.64" y1="234.35" x2="165.64" y2="230.55"/><line x1="177.74" y1="234.35" x2="177.74" y2="232.05"/><line x1="189.85" y1="234.35" x2="189.85" y2="232.05"/><line x1="201.95" y1="234.35" x2="201.95" y2="232.05"/><line x1="214.06" y1="234.35" x2="214.06" y2="232.05"/><line x1="226.16" y1="234.35" x2="226.16" y2="230.55"/><line x1="238.26" y1="234.35" x2="238.26" y2="232.05"/><line x1="250.37" y1="234.35" x2="250.37" y2="232.05"/><line x1="262.47" y1="234.35" x2="262.47" y2="232.05"/><line x1="274.58" y1="234.35" x2="274.58" y2="232.05"/><line x1="286.68" y1="234.35" x2="286.68" y2="230.55"/><line x1="298.78" y1="234.35" x2="298.78" y2="232.05"/><line x1="310.89" y1="234.35" x2="310.89" y2="232.05"/><line x1="322.99" y1="234.35" x2="322.99" y2="232.05"/><line x1="335.10" y1="234.35" x2="335.10" y2="232.05"/><line x1="347.20" y1="234.35" x2="347.20" y2="230.55"/><line x1="44.5" y1="225.84" x2="46.80" y2="225.84"/><line x1="44.5" y1="218.08" x2="46.80" y2="218.08"/><line x1="44.5" y1="210.32" x2="46.80" y2="210.32"/><line x1="44.5" y1="202.56" x2="46.80" y2="202.56"/><line x1="44.5" y1="194.80" x2="48.30" y2="194.80"/><line x1="44.5" y1="187.04" x2="46.80" y2="187.04"/><line x1="44.5" y1="179.28" x2="46.80" y2="179.28"/><line x1="44.5" y1="171.52" x2="46.80" y2="171.52"/><line x1="44.5" y1="163.76" x2="46.80" y2="163.76"/><line x1="44.5" y1="156.00" x2="48.30" y2="156.00"/><line x1="44.5" y1="148.24" x2="46.80" y2="148.24"/><line x1="44.5" y1="140.48" x2="46.80" y2="140.48"/><line x1="44.5" y1="132.72" x2="46.80" y2="132.72"/><line x1="44.5" y1="124.96" x2="46.80" y2="124.96"/><line x1="44.5" y1="117.20" x2="48.30" y2="117.20"/><line x1="44.5" y1="109.44" x2="46.80" y2="109.44"/><line x1="44.5" y1="101.68" x2="46.80" y2="101.68"/><line x1="44.5" y1="93.92" x2="46.80" y2="93.92"/><line x1="44.5" y1="86.16" x2="46.80" y2="86.16"/><line x1="44.5" y1="78.40" x2="48.30" y2="78.40"/><line x1="44.5" y1="70.64" x2="46.80" y2="70.64"/><line x1="44.5" y1="62.88" x2="46.80" y2="62.88"/><line x1="44.5" y1="55.12" x2="46.80" y2="55.12"/><line x1="44.5" y1="47.36" x2="46.80" y2="47.36"/><line x1="44.5" y1="39.60" x2="48.30" y2="39.60"/>
</g>
<g font-size="16.5px" fill="#000"><text x="44.60" y="252.6" text-anchor="middle">0.95</text><text x="105.12" y="252.6" text-anchor="middle">0.96</text><text x="165.64" y="252.6" text-anchor="middle">0.97</text><text x="226.16" y="252.6" text-anchor="middle">0.98</text><text x="286.68" y="252.6" text-anchor="middle">0.99</text><text x="347.20" y="252.6" text-anchor="middle">1.00</text><text x="41.2" y="201.40" text-anchor="end">0.005</text><text x="41.2" y="162.60" text-anchor="end">0.010</text><text x="41.2" y="123.80" text-anchor="end">0.015</text><text x="41.2" y="85.00" text-anchor="end">0.020</text><text x="41.2" y="46.60" text-anchor="end">0.025</text></g>
<text x="362.2" y="240.4" font-size="20px" fill="#000">p</text>
<g>
<path d="M25.9,18.4 L28.9,16 L35.4,30 L39.4,1.6 L62.8,1.6" fill="none" stroke="#000" stroke-width="1.15"/>
<path d="M28.6,16.2 L34.9,29.4" fill="none" stroke="#000" stroke-width="2.4"/>
<text x="44.6" y="21.6" font-size="19px" font-style="italic" fill="#000">τ</text>
<text x="52.9" y="27" font-size="15.3px" fill="#000">3</text>
</g>
</svg>
</body></html>
